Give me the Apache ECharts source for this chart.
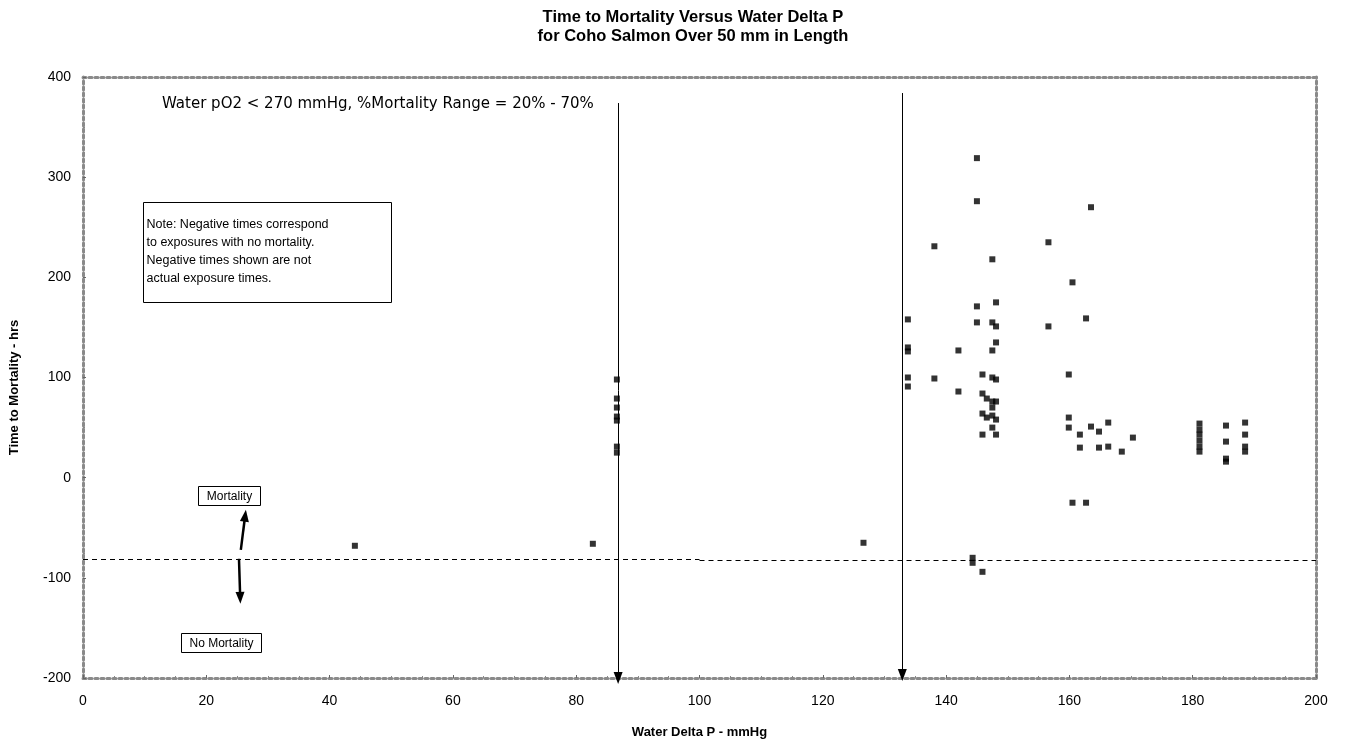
<!DOCTYPE html>
<html>
<head>
    <meta charset="utf-8">
    <title>Time to Mortality</title>
    <script src="https://cdn.jsdelivr.net/npm/echarts@6/dist/echarts.min.js"></script>
    <style type="text/css">
        * { margin: 0; padding: 0; }
        body { background: #fff; }
    </style>
</head>
<body>
<div id="main" style="width: 1346px; height: 745px;"></div>
<script type="text/javascript">
    // values: water delta P (mmHg) and time to mortality (hrs)
    var deltaP = [
        44.1, 82.7,
        86.6, 86.6, 86.6, 86.6, 86.6, 86.6, 86.6,
        126.6,
        133.8, 133.8, 133.8, 133.8, 133.8,
        138.1, 138.1, 142.0, 142.0,
        144.3, 144.3,
        145.0, 145.0, 145.0, 145.0,
        145.9, 145.9, 145.9, 145.9, 145.9,
        146.6, 146.6,
        147.5, 147.5, 147.5, 147.5, 147.5, 147.5, 147.5, 147.5,
        148.1, 148.1, 148.1, 148.1, 148.1, 148.1, 148.1,
        156.6, 156.6,
        159.9, 159.9, 159.9,
        160.5, 160.5,
        161.7, 161.7,
        162.7, 162.7,
        163.5, 163.5,
        164.8, 164.8,
        166.3, 166.3,
        168.5, 170.3,
        181.1, 181.1, 181.1, 181.1, 181.1, 181.1,
        185.4, 185.4, 185.4, 185.4,
        188.5, 188.5, 188.5, 188.5
    ];
    var hours = [
        -68, -66,
        98, 79, 70, 61, 57, 31, 25,
        -65,
        158, 130, 126, 100, 91,
        231, 99, 127, 86,
        -80, -85,
        319, 276, 171, 155,
        103, 84, 64, 43, -94,
        79, 60,
        218, 155, 127, 100, 76, 70, 62, 50,
        175, 151, 135, 98, 76, 58, 43,
        235, 151,
        103, 60, 50,
        195, -25,
        43, 30,
        159, -25,
        270, 51,
        46, 30,
        55, 31,
        26, 40,
        54, 48, 43, 37, 31, 26,
        52, 36, 19, 16,
        55, 43, 31, 26
    ];

    var xTicks = { min: 0, max: 200, interval: 20 };
    var yTicks = { min: -200, max: 400, interval: 100 };

    // mortality threshold line and annotation arrows, in data units
    var thresholdLeft = [[0, -81], [100, -81]];
    var thresholdRight = [[100, -82], [200, -82]];
    var leftArrow = [[86.8, 374], [86.8, -200]];
    var rightArrow = [[132.9, 384], [132.9, -197]];
    var upArrow = [[25.6, -72], [26.3, -38]];
    var downArrow = [[25.3, -81], [25.5, -120]];

    var points = deltaP.map(function (x, i) { return [x, hours[i]]; });

    var myChart = echarts.init(document.getElementById('main'));

    var axisLine = { show: true, onZero: false, lineStyle: { color: '#8a8a8a', width: 3, type: 'dotted' } };
    var tickFont = { color: '#000', fontSize: 14, fontFamily: 'Liberation Sans, Arial' };

    function seg(pair, style, symbols) {
        return [
            { coord: pair[0], symbol: symbols[0], lineStyle: style },
            { coord: pair[1], symbol: symbols[1] }
        ];
    }

    var dashStyle = { color: '#000', width: 1, type: [5, 4] };
    var solidStyle = { color: '#000', width: 1, type: 'solid' };
    var thickStyle = { color: '#000', width: 2.5, type: 'solid' };

    var option = {
        animation: false,
        backgroundColor: '#fff',
        title: {
            text: 'Time to Mortality Versus Water Delta P\nfor Coho Salmon Over 50 mm in Length',
            left: 688,
            textAlign: 'center',
            top: 3,
            textStyle: {
                fontSize: 16.5,
                fontWeight: 'bold',
                fontFamily: 'Liberation Sans, Arial',
                color: '#000',
                lineHeight: 19
            }
        },
        grid: { left: 82, right: 30, top: 77, bottom: 67 },
        xAxis: [
            {
                type: 'value',
                min: xTicks.min, max: xTicks.max, interval: xTicks.interval,
                name: 'Water Delta P - mmHg',
                nameLocation: 'middle',
                nameGap: 48,
                nameTextStyle: { fontSize: 13, fontWeight: 'bold', fontFamily: 'Liberation Sans, Arial', color: '#000' },
                axisLine: axisLine,
                axisTick: { show: true, length: 3, inside: true, lineStyle: { color: '#666' } },
                minorTick: { show: true, splitNumber: 4, length: 2, lineStyle: { color: '#888' } },
                axisLabel: Object.assign({ margin: 16 }, tickFont),
                splitLine: { show: false }
            },
            {
                type: 'value', position: 'top',
                min: xTicks.min, max: xTicks.max, interval: xTicks.interval,
                axisLine: axisLine,
                axisTick: { show: false },
                axisLabel: { show: false },
                splitLine: { show: false }
            }
        ],
        yAxis: [
            {
                type: 'value',
                min: yTicks.min, max: yTicks.max, interval: yTicks.interval,
                name: 'Time to Mortality - hrs',
                nameLocation: 'middle',
                nameGap: 62,
                nameTextStyle: { fontSize: 13, fontWeight: 'bold', fontFamily: 'Liberation Sans, Arial', color: '#000', padding: [0, 20, 0, 0] },
                axisLine: axisLine,
                axisTick: { show: true, length: 3, inside: true, lineStyle: { color: '#666' } },
                minorTick: { show: true, splitNumber: 4, length: 2, lineStyle: { color: '#888' } },
                axisLabel: Object.assign({ margin: 12 }, tickFont),
                splitLine: { show: false }
            },
            {
                type: 'value', position: 'right',
                min: yTicks.min, max: yTicks.max, interval: yTicks.interval,
                axisLine: axisLine,
                axisTick: { show: false },
                axisLabel: { show: false },
                splitLine: { show: false }
            }
        ],
        graphic: [
            {
                type: 'text', left: 162, top: 97,
                style: {
                    text: 'Water pO2 < 270 mmHg, %Mortality Range = 20% - 70%',
                    fontSize: 15, fontFamily: 'DejaVu Sans', fill: '#000'
                }
            },
            {
                type: 'group', left: 143, top: 202,
                children: [
                    { type: 'rect', shape: { x: 0, y: 0, width: 248, height: 100 }, style: { fill: '#fff', stroke: '#000', lineWidth: 1 } },
                    {
                        type: 'text', x: 3, y: 13,
                        style: {
                            text: 'Note: Negative times correspond\nto exposures with no mortality.\nNegative times shown are not\nactual exposure times.',
                            fontSize: 12.5, lineHeight: 18, fontFamily: 'Liberation Sans, Arial', fill: '#000'
                        }
                    }
                ]
            },
            {
                type: 'group', left: 198, top: 486,
                children: [
                    { type: 'rect', shape: { x: 0, y: 0, width: 62, height: 19 }, style: { fill: '#fff', stroke: '#000', lineWidth: 1 } },
                    { type: 'text', x: 31, y: 10, style: { text: 'Mortality', align: 'center', verticalAlign: 'middle', fontSize: 12, fontFamily: 'Liberation Sans, Arial', fill: '#000' } }
                ]
            },
            {
                type: 'group', left: 181, top: 633,
                children: [
                    { type: 'rect', shape: { x: 0, y: 0, width: 80, height: 19 }, style: { fill: '#fff', stroke: '#000', lineWidth: 1 } },
                    { type: 'text', x: 40, y: 10, style: { text: 'No Mortality', align: 'center', verticalAlign: 'middle', fontSize: 12, fontFamily: 'Liberation Sans, Arial', fill: '#000' } }
                ]
            }
        ],
        series: [
            {
                name: 'Time to Mortality',
                type: 'scatter',
                symbol: 'rect',
                symbolSize: 6,
                itemStyle: { color: '#000' },
                data: points,
                z: 5,
                markLine: {
                    silent: true,
                    animation: false,
                    label: { show: false },
                    symbolSize: [9, 12],
                    data: [
                        seg(thresholdLeft, dashStyle, ['none', 'none']),
                        seg(thresholdRight, dashStyle, ['none', 'none']),
                        seg(leftArrow, solidStyle, ['none', 'triangle']),
                        seg(rightArrow, solidStyle, ['none', 'triangle']),
                        seg(upArrow, thickStyle, ['none', 'triangle']),
                        seg(downArrow, thickStyle, ['none', 'triangle'])
                    ]
                }
            }
        ]
    };

    myChart.setOption(option);

    window.addEventListener('resize', function () {
        myChart.resize();
    });
</script>
</body>
</html>
